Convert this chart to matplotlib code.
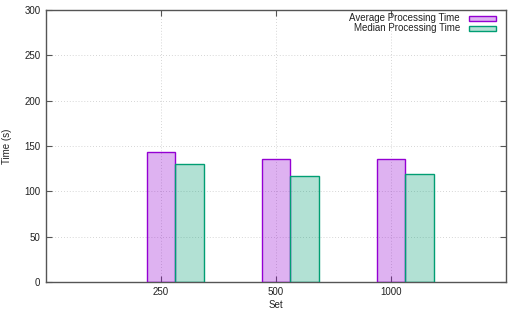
import numpy as np
import matplotlib
matplotlib.use('Agg')
import matplotlib.pyplot as plt
from matplotlib.patches import Rectangle

# --- data ---
sets       = ['250', '500', '1000']
avg_time   = [143.5, 135.5, 135.8]
med_time   = [130.0, 117.3, 118.8]
yticks     = [0, 50, 100, 150, 200, 250, 300]

C_AVG, C_MED = '#9400d3', '#009e73'
plt.rcParams.update({'font.family': ['Liberation Sans', 'DejaVu Sans'], 'font.size': 7})

W, H = 513, 318
fig = plt.figure(figsize=(W / 100, H / 100), dpi=100)
ax = fig.add_axes([46 / W, 1 - 282 / H, 460 / W, 272 / H])

x = np.arange(len(sets))
w = 0.25
ax.bar(x, avg_time, w, color=C_AVG, alpha=0.3, zorder=2)
ax.bar(x, avg_time, w, fill=False, edgecolor=C_AVG, lw=1.0, zorder=3)
ax.bar(x + w, med_time, w, color=C_MED, alpha=0.3, zorder=2)
ax.bar(x + w, med_time, w, fill=False, edgecolor=C_MED, lw=1.0, zorder=3)

ax.set_xlim(-1, 3)
ax.set_ylim(0, 300)
ax.set_xticks(x, sets)
ax.set_yticks(yticks)
ax.grid(True, ls=(0, (1, 2.5)), color='#c8c8c8', lw=0.6, zorder=0)
ax.tick_params(direction='in', length=4, width=0.8, color='#555555',
               top=True, right=True, labelsize=7, labelcolor='#222222')
ax.tick_params(axis='y', pad=4)
ax.tick_params(axis='x', pad=3.5)
for s in ax.spines.values():
    s.set_color('#555555'); s.set_linewidth(1.0)

fig.text(7 / W, 1 - 146 / H, 'Time (s)', rotation=90, ha='center', va='center',
         fontsize=7, color='#222222')
fig.text(276 / W, 1 - 305 / H, 'Set', ha='center', va='center',
         fontsize=7, color='#222222')

# gnuplot-style legend: right-aligned text, sample box after it
for i, (lab, c) in enumerate([('Average Processing Time', C_AVG),
                              ('Median Processing Time', C_MED)]):
    yc = 18.3 + 10 * i
    fig.text(460 / W, 1 - yc / H, lab, ha='right', va='center',
             fontsize=7, color='#222222')
    box = (469 / W, 1 - (yc + 2.5) / H)
    fig.patches.append(Rectangle(box, 27 / W, 5 / H, transform=fig.transFigure,
                                 facecolor=c, alpha=0.3, zorder=4))
    fig.patches.append(Rectangle(box, 27 / W, 5 / H, transform=fig.transFigure,
                                 fill=False, edgecolor=c, lw=1.0, zorder=5))

fig.savefig('out.png', dpi=100)
